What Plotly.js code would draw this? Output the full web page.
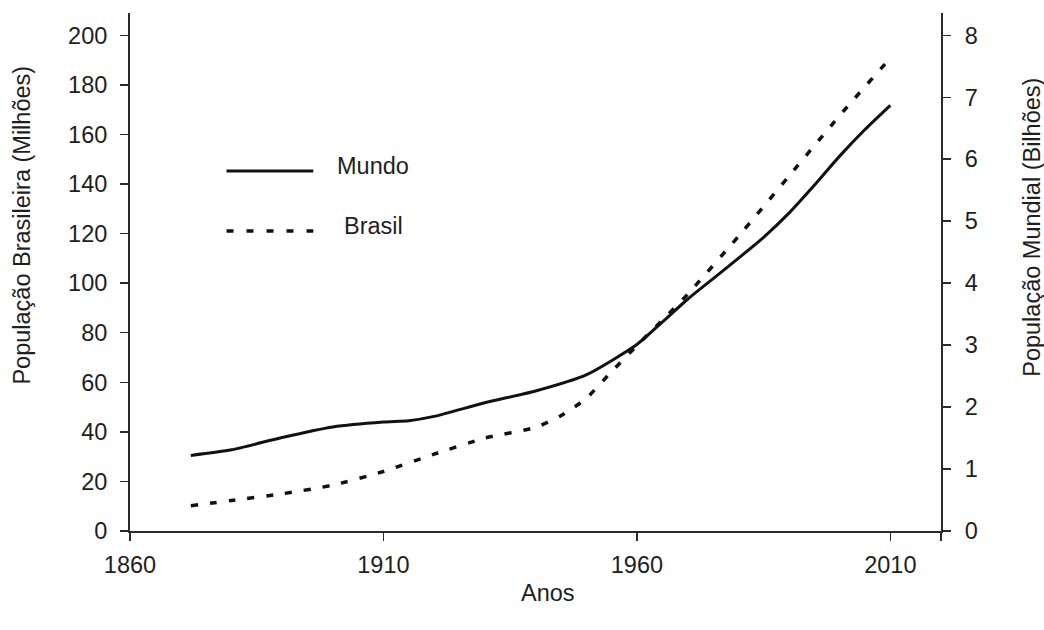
<!DOCTYPE html>
<html>
<head>
<meta charset="utf-8">
<script src="https://cdn.plot.ly/plotly-3.0.1.min.js"></script>
<style>html,body{margin:0;padding:0;background:#fff;}#chart{width:1044px;height:630px;}</style>
</head>
<body>
<div id="chart"></div>
<script>
// Data
const anosBrasil = [1872, 1880, 1890, 1900, 1910, 1920, 1930, 1940, 1945, 1950, 1955, 1960, 1965, 1970, 1980, 1990, 2000, 2010];
const brasilMilhoes = [10.2, 12.3, 15.0, 18.5, 24.0, 31.0, 37.5, 41.8, 46.5, 53.5, 64.3, 74.8, 85.0, 95.5, 118.8, 143.2, 167.6, 190.8];

const anosMundo = [1872, 1880, 1890, 1900, 1910, 1915, 1920, 1930, 1940, 1950, 1960, 1965, 1970, 1975, 1980, 1985, 1990, 1995, 2000, 2005, 2010];
const mundoBilhoes = [1.22, 1.31, 1.51, 1.68, 1.76, 1.78, 1.85, 2.07, 2.26, 2.52, 3.01, 3.37, 3.74, 4.07, 4.40, 4.74, 5.13, 5.58, 6.05, 6.48, 6.87];

const xTickVals = [1860, 1910, 1960, 2010, 2020];
const xTickText = ['1860', '1910', '1960', '2010', ''];
const yLeftTicks = [0, 20, 40, 60, 80, 100, 120, 140, 160, 180, 200];
const yRightTicks = [0, 1, 2, 3, 4, 5, 6, 7, 8];

const serieNomes = ['Mundo', 'Brasil'];
const textos = {
  x: 'Anos',
  yLeft: 'População Brasileira (Milhões)',
  yRight: 'População Mundial (Bilhões)'
};

const FONT = 'Liberation Sans, Arial, sans-serif';
const FS = 23.5;
const TXT = '#1e1e1e';
const LINE = '#111111';

const traces = [
  {
    x: anosMundo, y: mundoBilhoes, yaxis: 'y2', name: serieNomes[0],
    type: 'scatter', mode: 'lines',
    line: {color: LINE, width: 3, shape: 'spline', smoothing: 0.6},
    showlegend: false, hoverinfo: 'skip'
  },
  {
    x: anosBrasil, y: brasilMilhoes, yaxis: 'y', name: serieNomes[1],
    type: 'scatter', mode: 'lines',
    line: {color: LINE, width: 3.5, dash: '7px,12px', shape: 'spline', smoothing: 0.6},
    showlegend: false, hoverinfo: 'skip'
  }
];

const axisCommon = {
  showgrid: false, zeroline: false, showline: true,
  linecolor: '#2a2a2a', linewidth: 2,
  ticks: 'outside', ticklen: 8, tickwidth: 1.5, tickcolor: '#2a2a2a',
  tickfont: {family: FONT, size: FS, color: TXT}
};

const layout = {
  width: 1044, height: 630,
  margin: {l: 130, r: 103, t: 13, b: 99},
  paper_bgcolor: '#fff', plot_bgcolor: '#fff',
  font: {family: FONT, color: TXT},
  showlegend: false,
  xaxis: Object.assign({}, axisCommon, {
    range: [1860, 2020], tickmode: 'array', tickvals: xTickVals, ticktext: xTickText,
    ticklabelstandoff: 4
  }),
  yaxis: Object.assign({}, axisCommon, {
    range: [0, 209], tickmode: 'array', tickvals: yLeftTicks,
    ticklabelstandoff: 8
  }),
  yaxis2: Object.assign({}, axisCommon, {
    range: [0, 209 / 25], tickmode: 'array', tickvals: yRightTicks,
    overlaying: 'y', side: 'right', ticklabelstandoff: 9
  }),
  shapes: [
    {type: 'line', xref: 'paper', yref: 'paper', x0: 0.119, x1: 0.226, y0: 0.695, y1: 0.695,
     line: {color: LINE, width: 3}},
    {type: 'line', xref: 'paper', yref: 'paper', x0: 0.119, x1: 0.226, y0: 0.579, y1: 0.579,
     line: {color: LINE, width: 3.5, dash: '7px,13px'}}
  ],
  annotations: [
    {text: serieNomes[0], xref: 'paper', yref: 'paper', x: 0.2528, y: 0.705,
     xanchor: 'left', yanchor: 'middle', showarrow: false, font: {family: FONT, size: FS, color: TXT}},
    {text: serieNomes[1], xref: 'paper', yref: 'paper', x: 0.261, y: 0.589,
     xanchor: 'left', yanchor: 'middle', showarrow: false, font: {family: FONT, size: FS, color: TXT}},
    {text: textos.yLeft, xref: 'paper', yref: 'paper', x: -0.1335, y: 0.591, textangle: -90,
     xanchor: 'center', yanchor: 'middle', showarrow: false, font: {family: FONT, size: FS, color: TXT}},
    {text: textos.yRight, xref: 'paper', yref: 'paper', x: 1.112, y: 0.587, textangle: -90,
     xanchor: 'center', yanchor: 'middle', showarrow: false, font: {family: FONT, size: FS, color: TXT}},
    {text: textos.x, xref: 'paper', yref: 'paper', x: 0.515, y: -0.1197,
     xanchor: 'center', yanchor: 'middle', showarrow: false, font: {family: FONT, size: FS, color: TXT}}
  ]
};

Plotly.newPlot('chart', traces, layout, {staticPlot: true, displayModeBar: false});
</script>
</body>
</html>
